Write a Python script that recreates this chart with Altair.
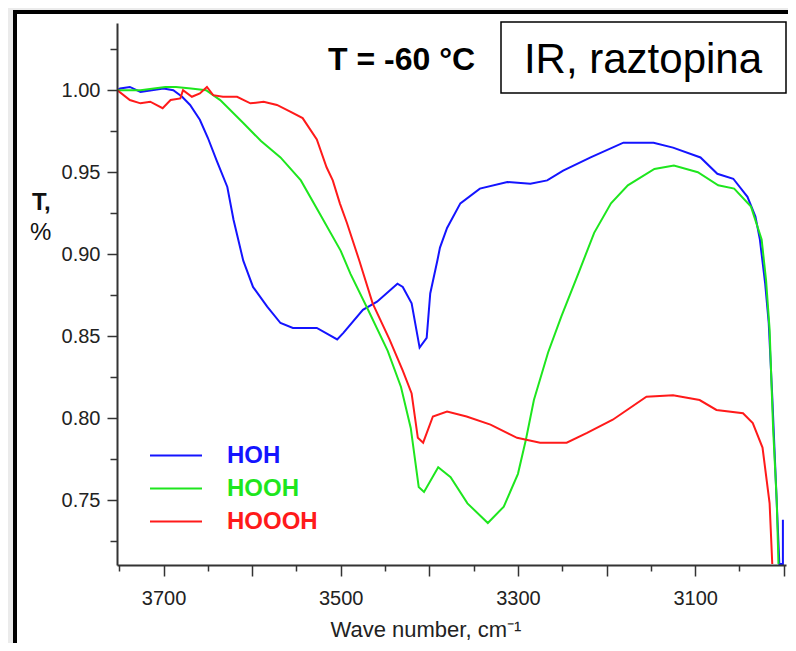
import altair as alt
import pandas as pd

FONT = "Liberation Sans"

series_names = ["HOH", "HOOH", "HOOOH"]
series_colors = ["#1414ff", "#1ee61e", "#ff1a1a"]

hoh_wave = [3752, 3749, 3738, 3726, 3700, 3689, 3679, 3670, 3659, 3650, 3640, 3628, 3621, 3610,
            3599, 3583, 3568, 3554, 3527, 3504, 3497, 3475, 3459, 3436, 3430, 3420, 3411, 3403,
            3399, 3391, 3388, 3380, 3365, 3343, 3312, 3286, 3267, 3249, 3218, 3181, 3147, 3125,
            3094, 3075, 3057, 3041, 3032, 3027, 3021, 3017, 3013, 3009, 3005, 3001, 3001]
hoh_t = [1.000, 1.001, 1.002, 0.999, 1.001, 1.000, 0.996, 0.991, 0.982, 0.971, 0.957, 0.941, 0.921, 0.896,
         0.880, 0.868, 0.858, 0.855, 0.855, 0.848, 0.852, 0.866, 0.871, 0.882, 0.880, 0.870, 0.843, 0.849,
         0.876, 0.896, 0.904, 0.916, 0.931, 0.940, 0.944, 0.943, 0.945, 0.951, 0.959, 0.968, 0.968, 0.965,
         0.959, 0.949, 0.946, 0.935, 0.923, 0.909, 0.882, 0.858, 0.813, 0.762, 0.711, 0.711, 0.738]

hooh_wave = [3752, 3726, 3698, 3686, 3669, 3652, 3636, 3610, 3590, 3568, 3545, 3523, 3500, 3489,
             3470, 3447, 3432, 3421, 3412, 3406, 3390, 3376, 3357, 3334, 3316, 3300, 3291, 3282,
             3266, 3251, 3232, 3214, 3195, 3176, 3146, 3124, 3097, 3074, 3056, 3037, 3025, 3020,
             3016, 3014, 3012, 3008, 3006]
hooh_t = [1.000, 1.000, 1.002, 1.002, 1.001, 1.000, 0.994, 0.980, 0.969, 0.959, 0.945, 0.924, 0.902, 0.888,
          0.867, 0.841, 0.819, 0.794, 0.758, 0.755, 0.770, 0.764, 0.748, 0.736, 0.746, 0.766, 0.787, 0.811,
          0.840, 0.862, 0.888, 0.913, 0.931, 0.942, 0.952, 0.954, 0.950, 0.942, 0.940, 0.929, 0.909, 0.884,
          0.854, 0.823, 0.793, 0.750, 0.711]

hoooh_wave = [3752, 3738, 3726, 3715, 3701, 3692, 3681, 3678, 3668, 3659, 3651, 3644, 3633, 3617,
              3602, 3587, 3572, 3557, 3543, 3527, 3516, 3509, 3501, 3493, 3479, 3464, 3445, 3430,
              3420, 3413, 3407, 3396, 3380, 3358, 3331, 3301, 3275, 3245, 3222, 3193, 3155, 3125,
              3095, 3076, 3046, 3035, 3024, 3016, 3013]
hoooh_t = [1.000, 0.994, 0.992, 0.993, 0.989, 0.994, 0.995, 1.000, 0.996, 0.998, 1.002, 0.997, 0.996, 0.996,
           0.992, 0.993, 0.991, 0.987, 0.983, 0.970, 0.953, 0.945, 0.931, 0.919, 0.896, 0.870, 0.848, 0.829,
           0.815, 0.788, 0.785, 0.801, 0.804, 0.801, 0.796, 0.788, 0.785, 0.785, 0.791, 0.799, 0.813, 0.814,
           0.811, 0.805, 0.803, 0.797, 0.782, 0.748, 0.711]

x_tick_values = [3000, 3050, 3100, 3150, 3200, 3250, 3300, 3350, 3400, 3450, 3500,
                 3550, 3600, 3650, 3700, 3750]
y_tick_values = [0.725, 0.75, 0.775, 0.80, 0.825, 0.85, 0.875, 0.90, 0.925, 0.95,
                 0.975, 1.00, 1.025]

x_domain = [2997.5, 3752.5]
y_domain = [0.7104, 1.041]

rows = []
for name, ws, ts in [("HOH", hoh_wave, hoh_t), ("HOOH", hooh_wave, hooh_t), ("HOOOH", hoooh_wave, hoooh_t)]:
    for i, (w, t) in enumerate(zip(ws, ts)):
        rows.append({"series": name, "wave": w, "T": t, "idx": i})
df = pd.DataFrame(rows)

one = alt.Data(values=[{}])

x_axis = alt.Axis(
    values=x_tick_values,
    title="Wave number, cm⁻¹",
    titleFont=FONT, titleFontSize=22, titleFontWeight="normal", titleColor="#222",
    titleAlign="left", titleBaseline="alphabetic", titleX=213, titleY=71, titleAnchor="start",
    labelExpr="datum.value % 200 == 100 ? datum.label : ''",
    format="d",
    labelFont=FONT, labelFontSize=20, labelColor="#222", labelPadding=12,
    tickSize={"condition": {"test": "datum.value % 100 == 0", "value": 11}, "value": 6},
    tickColor="#333", tickWidth=1.5, domainColor="#333", domainWidth=2,
    grid=False, zindex=1, labelFlush=False, labelOverlap=False,
)
y_axis = alt.Axis(
    values=y_tick_values,
    title=None,
    labelExpr="abs(datum.value*20 - round(datum.value*20)) < 0.01 ? format(datum.value, '.2f') : ''",
    labelFont=FONT, labelFontSize=20, labelColor="#222", labelPadding=7,
    tickSize={"condition": {"test": "abs(datum.value*20 - round(datum.value*20)) < 0.01", "value": 10}, "value": 7},
    tickColor="#333", tickWidth=1.5, domainColor="#333", domainWidth=2,
    grid=False, zindex=1, labelFlush=False, labelOverlap=False,
)

frame = alt.Chart(one).mark_rect(fill="white", stroke="black", strokeWidth=4, clip=False).encode(
    x=alt.value(-102), x2=alt.value(900), y=alt.value(-11), y2=alt.value(900)
)

lines = alt.Chart(df).mark_line(strokeWidth=2, clip=True).encode(
    x=alt.X("wave:Q", scale=alt.Scale(domain=x_domain, reverse=True, nice=False, zero=False), axis=x_axis),
    y=alt.Y("T:Q", scale=alt.Scale(domain=y_domain, nice=False, zero=False), axis=y_axis),
    color=alt.Color(
        "series:N",
        scale=alt.Scale(domain=series_names, range=series_colors),
        sort=series_names,
        legend=alt.Legend(
            orient="none", legendX=32, legendY=416, title=None,
            symbolType="stroke", symbolSize=2704, symbolStrokeWidth=2,
            labelFont=FONT, labelFontSize=24, labelFontWeight="bold", labelOffset=24,
            labelColor={"expr": "scale('color', datum.value)"},
            clipHeight=33, rowPadding=0, padding=0,
        ),
    ),
    order=alt.Order("idx:Q"),
    detail="series:N",
)

temp_text = alt.Chart(one).mark_text(
    text="T = -60 °C", font=FONT, fontSize=32, fontWeight="bold", align="left",
    baseline="alphabetic", color="black"
).encode(x=alt.value(211), y=alt.value(47))

box = alt.Chart(one).mark_rect(fill="white", stroke="black", strokeWidth=1.5, clip=False).encode(
    x=alt.value(384), x2=alt.value(669), y=alt.value(-1), y2=alt.value(70)
)
box_text = alt.Chart(one).mark_text(
    text="IR, raztopina", font=FONT, fontSize=42, align="center", baseline="alphabetic", color="black"
).encode(x=alt.value(526), y=alt.value(50))

ylab1 = alt.Chart(one).mark_text(
    text="T,", font=FONT, fontSize=24, fontWeight="bold", align="left", baseline="alphabetic", color="#111"
).encode(x=alt.value(-85), y=alt.value(187))
ylab2 = alt.Chart(one).mark_text(
    text="%", font=FONT, fontSize=24, align="left", baseline="alphabetic", color="#111"
).encode(x=alt.value(-87), y=alt.value(217))

chart = alt.layer(frame, lines, temp_text, box, box_text, ylab1, ylab2).properties(
    width=669, height=542,
    padding={"left": 109, "top": 15, "right": 2, "bottom": 78},
    autosize=alt.AutoSizeParams(type="none"),
    background="#ebebeb",
).configure_view(strokeWidth=0)

chart.save("out.html", embed_options={"renderer": "svg", "actions": False})
